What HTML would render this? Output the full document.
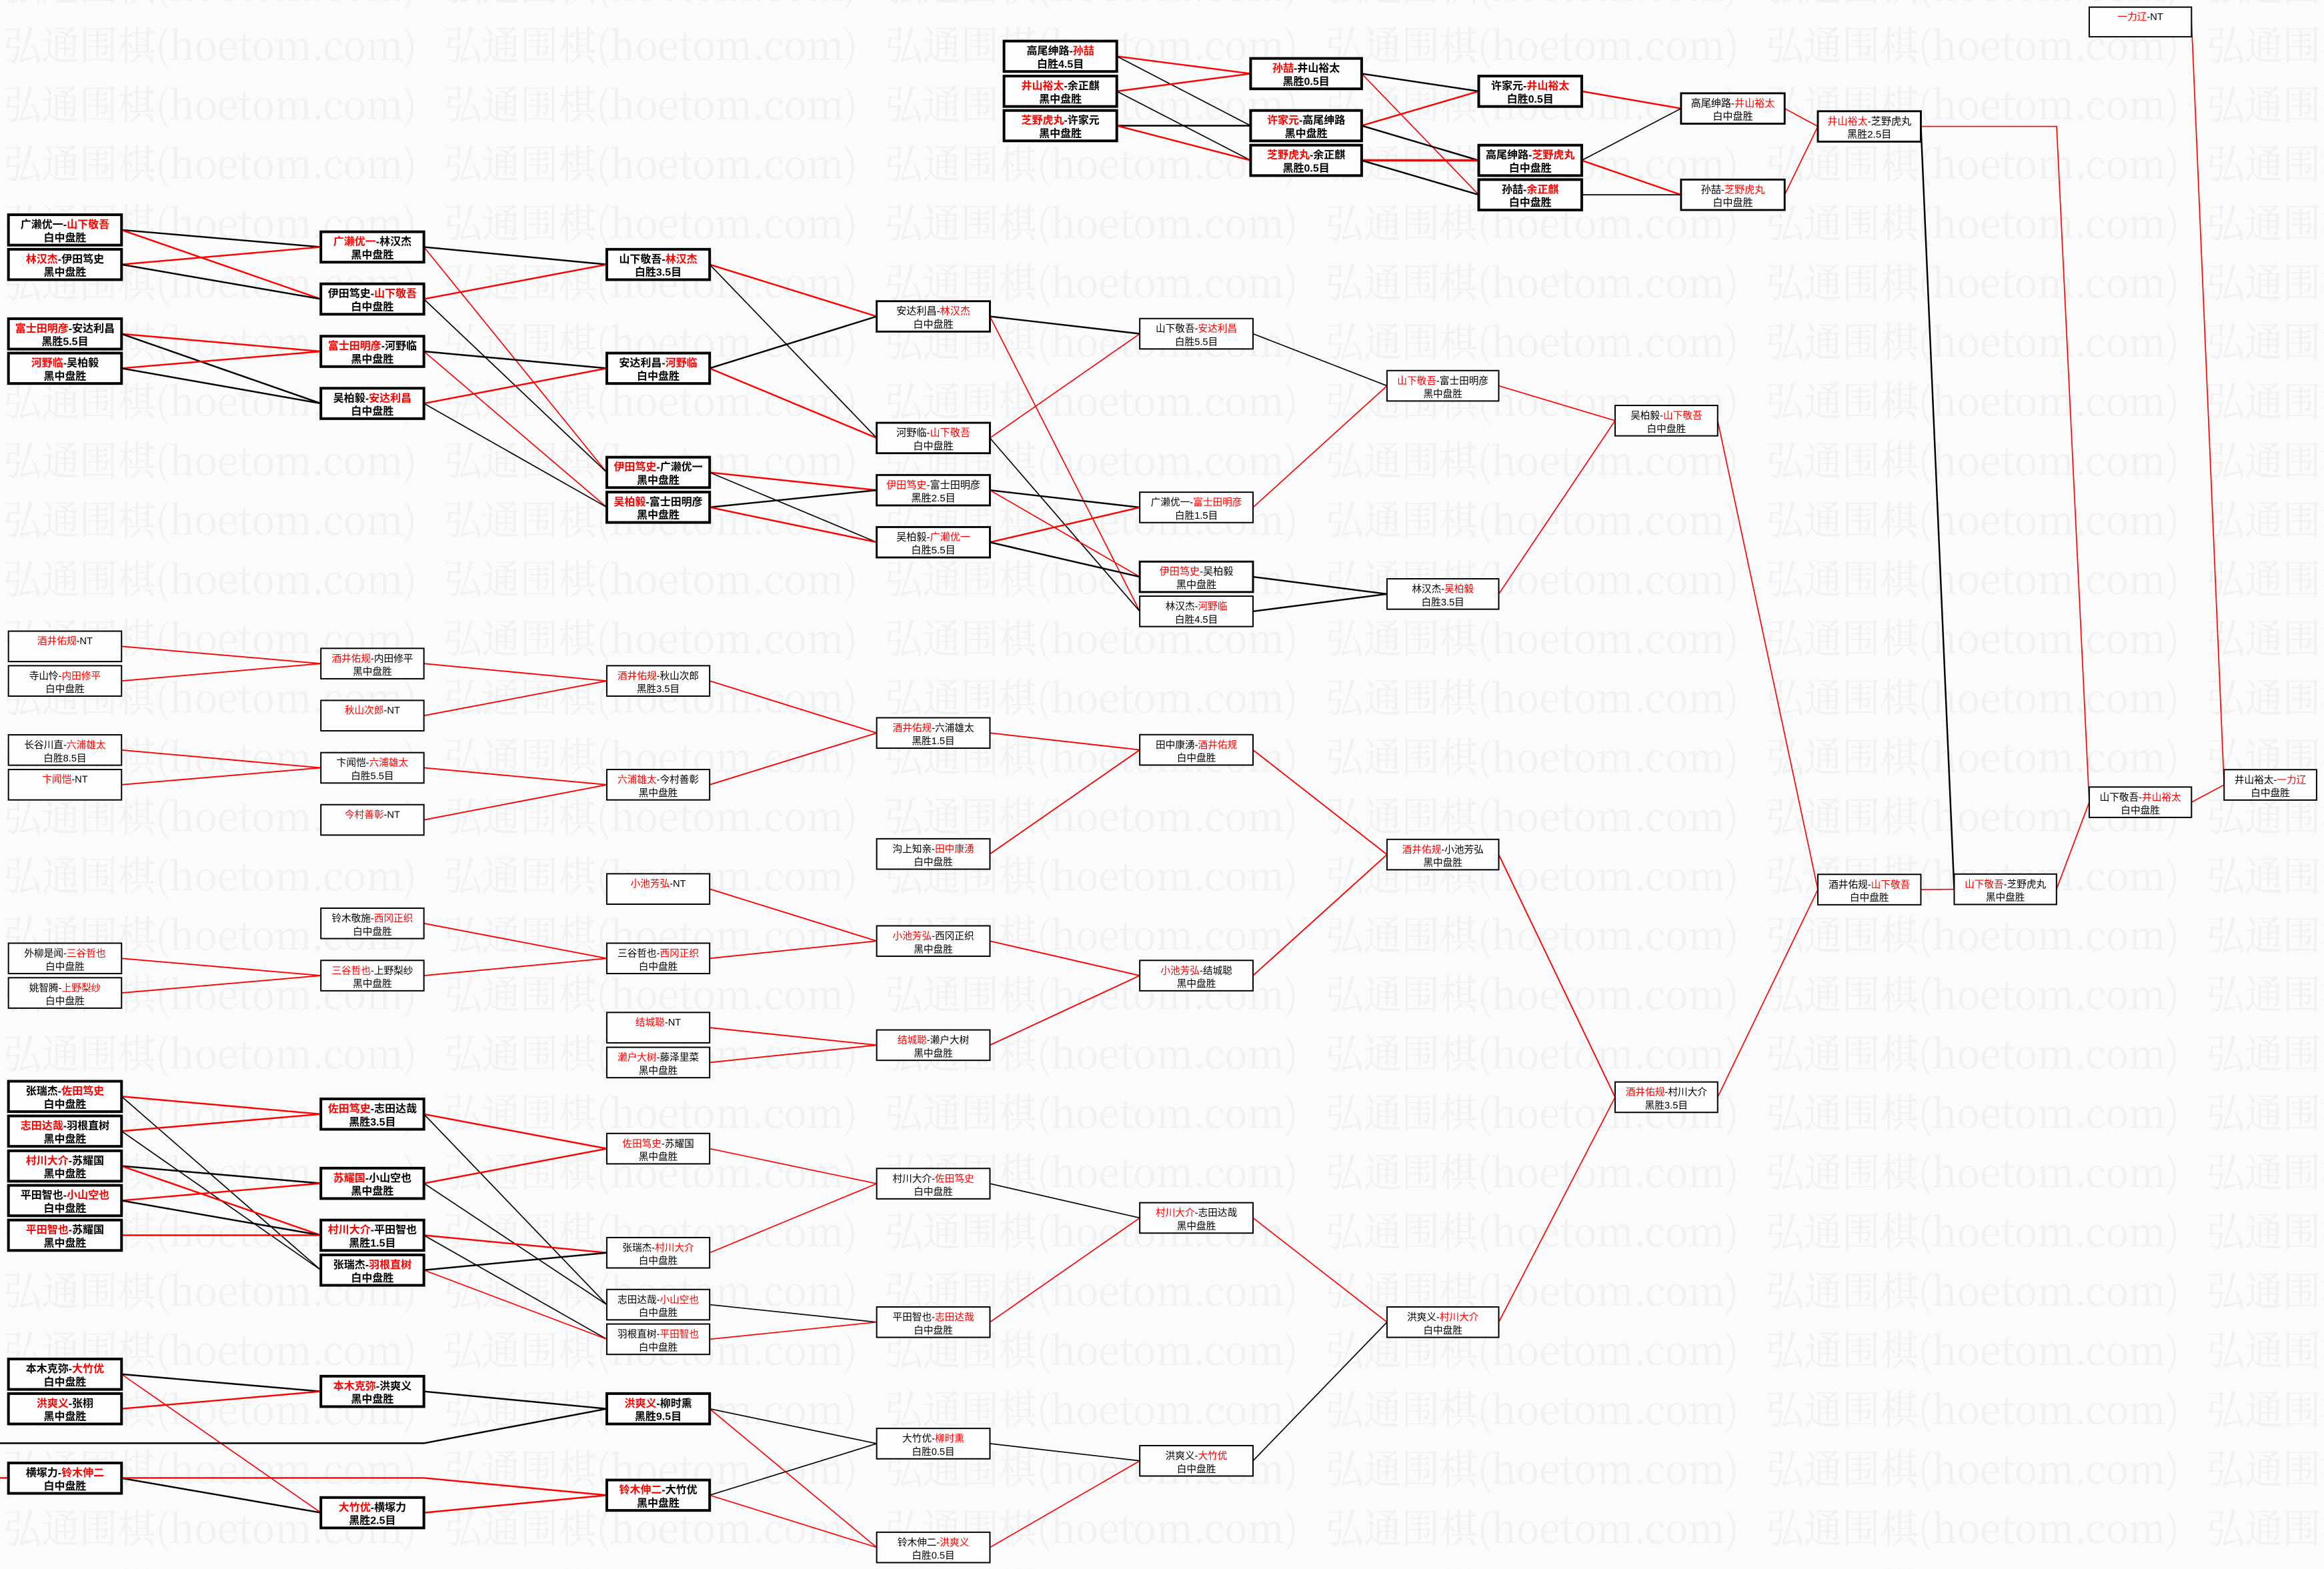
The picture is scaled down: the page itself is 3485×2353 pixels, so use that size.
<!DOCTYPE html>
<html><head><meta charset="utf-8"><style>
html,body{margin:0;padding:0;background:#fbfbfb;overflow:hidden}
svg{display:block}
.bx text{font-family:"Liberation Sans","Noto Sans CJK SC",sans-serif;text-anchor:middle;fill:#000}
.bx rect{fill:#fdfdfd;stroke:#000}
.k rect{stroke-width:1.8}.k text{font-size:7.2px;font-weight:bold}
.m rect{stroke-width:1.3}.m text{font-size:6.8px}
.t rect{stroke-width:0.9}.t text{font-size:6.6px}
.bx .r{fill:#f00}
line,polyline{fill:none}
.rk{stroke:#f00;stroke-width:1.1}.rt{stroke:#f00;stroke-width:0.75}
.kk{stroke:#000;stroke-width:1.1}.kt{stroke:#000;stroke-width:0.75}
</style></head><body>
<svg xmlns="http://www.w3.org/2000/svg" width="3485" height="2353" viewBox="0 0 1568 1058" preserveAspectRatio="none">
<defs>
<pattern id="wm" patternUnits="userSpaceOnUse" x="0" y="17" width="297.3" height="40">
<text x="2.3" y="23.3" font-size="27" textLength="279" lengthAdjust="spacingAndGlyphs" fill="#f1f1f1" style="font-family:'Noto Serif CJK SC','Liberation Serif',serif">弘通围棋(hoetom.com)</text>
</pattern>
</defs>
<rect width="1568" height="1058" fill="#fbfbfb"/>
<rect width="1568" height="1058" fill="url(#wm)"/>

<!-- top bracket lines -->
<line class="rk" x1="753.5" y1="37.95" x2="843.8" y2="49.65"/>
<line class="kt" x1="753.5" y1="37.95" x2="843.8" y2="84.75"/>
<line class="rk" x1="753.5" y1="61.55" x2="843.8" y2="49.65"/>
<line class="kt" x1="753.5" y1="61.55" x2="843.8" y2="108.15"/>
<line class="kk" x1="753.5" y1="84.75" x2="843.8" y2="84.75"/>
<line class="rk" x1="753.5" y1="84.75" x2="843.8" y2="108.15"/>
<line class="kk" x1="918.7" y1="49.65" x2="997.7" y2="61.55"/>
<line class="rt" x1="918.7" y1="49.65" x2="997.7" y2="131.35"/>
<line class="rk" x1="918.7" y1="84.75" x2="997.7" y2="61.55"/>
<line class="kk" x1="918.7" y1="84.75" x2="997.7" y2="108.15"/>
<line class="rk" x1="918.7" y1="108.15" x2="997.7" y2="108.15" style="stroke-width:1.6"/>
<line class="kk" x1="918.7" y1="108.15" x2="997.7" y2="131.35"/>
<line class="rk" x1="1067.2" y1="61.55" x2="1134.2" y2="73.15"/>
<line class="kt" x1="1067.2" y1="108.15" x2="1134.2" y2="73.15"/>
<line class="rk" x1="1067.2" y1="108.15" x2="1134.2" y2="131.35"/>
<line class="kt" x1="1067.2" y1="131.35" x2="1134.2" y2="131.35"/>
<line class="rt" x1="1204.1" y1="73.15" x2="1226.5" y2="85.25"/>
<line class="rt" x1="1204.1" y1="131.35" x2="1226.5" y2="85.25"/>
<polyline class="rt" points="1296,85.25 1387.6,85.25 1409.6,540.95"/>
<line class="kk" x1="1296" y1="85.25" x2="1318.5" y2="599.65"/>
<line class="rt" x1="1478.6" y1="14.05" x2="1500.6" y2="529.25"/>
<line class="rt" x1="1478.6" y1="540.95" x2="1500.6" y2="529.25"/>
<line class="rt" x1="1387.5" y1="599.65" x2="1409.6" y2="540.95"/>
<line class="rt" x1="1296" y1="599.85" x2="1318.5" y2="599.65"/>
<line class="rt" x1="1158.9" y1="283.65" x2="1226.5" y2="599.85"/>
<line class="rt" x1="1158.9" y1="739.85" x2="1226.5" y2="599.85"/>

<!-- top-left bracket lines -->
<line class="kk" x1="82" y1="155.05" x2="216.5" y2="166.55"/>
<line class="rk" x1="82" y1="155.05" x2="216.5" y2="201.65"/>
<line class="rk" x1="82" y1="178.35" x2="216.5" y2="166.55"/>
<line class="kk" x1="82" y1="178.35" x2="216.5" y2="201.65"/>
<line class="rk" x1="82" y1="225.15" x2="216.5" y2="236.95"/>
<line class="kk" x1="82" y1="225.15" x2="216.5" y2="272.05"/>
<line class="rk" x1="82" y1="248.35" x2="216.5" y2="236.95"/>
<line class="kk" x1="82" y1="248.35" x2="216.5" y2="272.05"/>
<line class="kk" x1="286" y1="166.55" x2="409.4" y2="178.35"/>
<line class="rt" x1="286" y1="166.55" x2="409.4" y2="318.55"/>
<line class="rk" x1="286" y1="201.65" x2="409.4" y2="178.35"/>
<line class="kt" x1="286" y1="201.65" x2="409.4" y2="318.55"/>
<line class="kk" x1="286" y1="236.95" x2="409.4" y2="248.35"/>
<line class="rt" x1="286" y1="236.95" x2="409.4" y2="342.05"/>
<line class="rk" x1="286" y1="272.05" x2="409.4" y2="248.35"/>
<line class="kt" x1="286" y1="272.05" x2="409.4" y2="342.05"/>
<line class="rk" x1="478.8" y1="178.35" x2="591.5" y2="213.35"/>
<line class="kt" x1="478.8" y1="178.35" x2="591.5" y2="295.35"/>
<line class="kk" x1="478.8" y1="248.35" x2="591.5" y2="213.35"/>
<line class="rk" x1="478.8" y1="248.35" x2="591.5" y2="295.35"/>
<line class="rk" x1="478.8" y1="318.55" x2="591.5" y2="330.55"/>
<line class="kt" x1="478.8" y1="318.55" x2="591.5" y2="365.65"/>
<line class="kk" x1="478.8" y1="342.05" x2="591.5" y2="330.55"/>
<line class="rk" x1="478.8" y1="342.05" x2="591.5" y2="365.65"/>
<line class="kk" x1="667.9" y1="213.35" x2="769" y2="225.05"/>
<line class="rt" x1="667.9" y1="213.35" x2="769" y2="412.25"/>
<line class="rt" x1="667.9" y1="295.35" x2="769" y2="225.05"/>
<line class="kt" x1="667.9" y1="295.35" x2="769" y2="412.25"/>
<line class="kk" x1="667.9" y1="330.55" x2="769" y2="342.15"/>
<line class="rt" x1="667.9" y1="330.55" x2="769" y2="388.95"/>
<line class="rk" x1="667.9" y1="365.65" x2="769" y2="342.15"/>
<line class="kk" x1="667.9" y1="365.65" x2="769" y2="388.95"/>
<line class="kt" x1="845.4" y1="225.05" x2="935.8" y2="260.15"/>
<line class="rt" x1="845.4" y1="342.15" x2="935.8" y2="260.15"/>
<line class="kk" x1="845.4" y1="388.95" x2="935.8" y2="400.55"/>
<line class="kk" x1="845.4" y1="412.25" x2="935.8" y2="400.55"/>
<line class="rt" x1="1011.2" y1="260.15" x2="1089.7" y2="283.65"/>
<line class="rt" x1="1011.2" y1="400.55" x2="1089.7" y2="283.65"/>

<!-- middle bracket lines -->
<g class="rt" style="stroke-width:0.85">
<line x1="82" y1="435.85" x2="216.5" y2="447.45"/>
<line x1="82" y1="459.15" x2="216.5" y2="447.45"/>
<line x1="286" y1="447.45" x2="409.4" y2="459.15"/>
<line x1="286" y1="482.55" x2="409.4" y2="459.15"/>
<line x1="82" y1="505.75" x2="216.5" y2="517.75"/>
<line x1="82" y1="529.15" x2="216.5" y2="517.75"/>
<line x1="286" y1="517.75" x2="409.4" y2="529.15"/>
<line x1="286" y1="552.85" x2="409.4" y2="529.15"/>
<line x1="82" y1="646.25" x2="216.5" y2="657.85"/>
<line x1="82" y1="669.55" x2="216.5" y2="657.85"/>
<line x1="286" y1="657.85" x2="409.4" y2="646.25"/>
<line x1="286" y1="622.65" x2="409.4" y2="646.25"/>
<line x1="478.8" y1="459.15" x2="591.5" y2="494.25"/>
<line x1="478.8" y1="529.15" x2="591.5" y2="494.25"/>
<line x1="478.8" y1="599.45" x2="591.5" y2="634.55"/>
<line x1="478.8" y1="646.25" x2="591.5" y2="634.55"/>
<line x1="478.8" y1="692.95" x2="591.5" y2="704.75"/>
<line x1="478.8" y1="716.45" x2="591.5" y2="704.75"/>
<line x1="667.9" y1="494.25" x2="769" y2="505.65"/>
<line x1="667.9" y1="575.85" x2="769" y2="505.65"/>
<line x1="667.9" y1="634.55" x2="769" y2="657.85"/>
<line x1="667.9" y1="704.75" x2="769" y2="657.85"/>
<line x1="845.4" y1="505.65" x2="935.8" y2="576.25"/>
<line x1="845.4" y1="657.85" x2="935.8" y2="576.25"/>
<line x1="1011.2" y1="576.25" x2="1089.7" y2="739.85"/>
</g>

<!-- bottom bracket lines -->
<line class="rk" x1="82" y1="739.35" x2="216.5" y2="751.25"/>
<line class="kt" x1="82" y1="739.35" x2="216.5" y2="856.45"/>
<line class="rk" x1="82" y1="762.75" x2="216.5" y2="751.25"/>
<line class="kt" x1="82" y1="762.75" x2="216.5" y2="856.45"/>
<line class="kk" x1="82" y1="786.25" x2="216.5" y2="797.95"/>
<line class="rk" x1="82" y1="786.25" x2="216.5" y2="832.95"/>
<line class="rk" x1="82" y1="809.55" x2="216.5" y2="797.95"/>
<line class="kk" x1="82" y1="809.55" x2="216.5" y2="832.95"/>
<line class="rk" x1="82" y1="832.95" x2="216.5" y2="832.95"/>
<line class="kk" x1="82" y1="926.65" x2="216.5" y2="938.25"/>
<line class="rt" x1="82" y1="926.65" x2="216.5" y2="1020.05"/>
<line class="rk" x1="82" y1="949.95" x2="216.5" y2="938.25"/>
<line class="kk" x1="82" y1="996.75" x2="216.5" y2="1020.05"/>
<polyline class="rk" points="0,996.6 286,996.6 409.4,1008.25"/>
<polyline class="kk" points="0,973.2 286,973.2 409.4,949.95"/>
<line class="rk" x1="286" y1="751.25" x2="409.4" y2="774.55"/>
<line class="kt" x1="286" y1="751.25" x2="409.4" y2="879.75"/>
<line class="rk" x1="286" y1="797.95" x2="409.4" y2="774.55"/>
<line class="kt" x1="286" y1="797.95" x2="409.4" y2="879.75"/>
<line class="rk" x1="286" y1="832.95" x2="409.4" y2="844.75"/>
<line class="kt" x1="286" y1="832.95" x2="409.4" y2="903.05"/>
<line class="kk" x1="286" y1="856.45" x2="409.4" y2="844.75"/>
<line class="rt" x1="286" y1="856.45" x2="409.4" y2="903.05"/>
<line class="kk" x1="286" y1="938.25" x2="409.4" y2="949.95"/>
<line class="rk" x1="286" y1="1020.05" x2="409.4" y2="1008.25"/>
<line class="rt" x1="478.8" y1="774.55" x2="591.5" y2="798.15"/>
<line class="rt" x1="478.8" y1="844.75" x2="591.5" y2="798.15"/>
<line class="kt" x1="478.8" y1="879.75" x2="591.5" y2="891.55"/>
<line class="rt" x1="478.8" y1="903.05" x2="591.5" y2="891.55"/>
<line class="kt" x1="478.8" y1="949.95" x2="591.5" y2="973.45"/>
<line class="rt" x1="478.8" y1="949.95" x2="591.5" y2="1043.45"/>
<line class="kt" x1="478.8" y1="1008.25" x2="591.5" y2="973.45"/>
<line class="rt" x1="478.8" y1="1008.25" x2="591.5" y2="1043.45"/>
<line class="kt" x1="667.9" y1="798.15" x2="769" y2="821.25"/>
<line class="rt" x1="667.9" y1="891.55" x2="769" y2="821.25"/>
<line class="kt" x1="667.9" y1="973.45" x2="769" y2="985.05"/>
<line class="rt" x1="667.9" y1="1043.45" x2="769" y2="985.05"/>
<line class="rt" x1="845.4" y1="821.25" x2="935.8" y2="891.55"/>
<line class="kt" x1="845.4" y1="985.05" x2="935.8" y2="891.55"/>
<line class="rt" x1="1011.2" y1="891.55" x2="1089.7" y2="739.85"/>

<!-- ===== BOXES ===== -->
<!-- top bracket -->
<g class="bx k" transform="translate(677.4 27.7)"><rect width="76.1" height="20.5"/><text x="38.05" y="9">高尾绅路-<tspan class="r">孙喆</tspan></text><text x="38.05" y="17.9">白胜4.5目</text></g>
<g class="bx k" transform="translate(677.4 51.3)"><rect width="76.1" height="20.5"/><text x="38.05" y="9"><tspan class="r">井山裕太</tspan>-余正麒</text><text x="38.05" y="17.9">黑中盘胜</text></g>
<g class="bx k" transform="translate(677.4 74.5)"><rect width="76.1" height="20.5"/><text x="38.05" y="9"><tspan class="r">芝野虎丸</tspan>-许家元</text><text x="38.05" y="17.9">黑中盘胜</text></g>
<g class="bx k" transform="translate(843.8 39.4)"><rect width="74.9" height="20.5"/><text x="37.45" y="9"><tspan class="r">孙喆</tspan>-井山裕太</text><text x="37.45" y="17.9">黑胜0.5目</text></g>
<g class="bx k" transform="translate(843.8 74.5)"><rect width="74.9" height="20.5"/><text x="37.45" y="9"><tspan class="r">许家元</tspan>-高尾绅路</text><text x="37.45" y="17.9">黑中盘胜</text></g>
<g class="bx k" transform="translate(843.8 97.9)"><rect width="74.9" height="20.5"/><text x="37.45" y="9"><tspan class="r">芝野虎丸</tspan>-余正麒</text><text x="37.45" y="17.9">黑胜0.5目</text></g>
<g class="bx k" transform="translate(997.7 51.3)"><rect width="69.5" height="20.5"/><text x="34.75" y="9">许家元-<tspan class="r">井山裕太</tspan></text><text x="34.75" y="17.9">白胜0.5目</text></g>
<g class="bx k" transform="translate(997.7 97.9)"><rect width="69.5" height="20.5"/><text x="34.75" y="9">高尾绅路-<tspan class="r">芝野虎丸</tspan></text><text x="34.75" y="17.9">白中盘胜</text></g>
<g class="bx k" transform="translate(997.7 121.1)"><rect width="69.5" height="20.5"/><text x="34.75" y="9">孙喆-<tspan class="r">余正麒</tspan></text><text x="34.75" y="17.9">白中盘胜</text></g>
<g class="bx m" transform="translate(1134.2 62.9)"><rect width="69.9" height="20.5"/><text x="34.95" y="9">高尾绅路-<tspan class="r">井山裕太</tspan></text><text x="34.95" y="17.9">白中盘胜</text></g>
<g class="bx m" transform="translate(1134.2 121.1)"><rect width="69.9" height="20.5"/><text x="34.95" y="9">孙喆-<tspan class="r">芝野虎丸</tspan></text><text x="34.95" y="17.9">白中盘胜</text></g>
<g class="bx m" transform="translate(1226.5 75)"><rect width="69.5" height="20.5"/><text x="34.75" y="9"><tspan class="r">井山裕太</tspan>-芝野虎丸</text><text x="34.75" y="17.9">黑胜2.5目</text></g>

<!-- right side -->
<g class="bx t" transform="translate(1409.6 4.8)"><rect width="69" height="20"/><text x="34.5" y="8.6"><tspan class="r">一力辽</tspan>-NT</text></g>
<g class="bx t" transform="translate(1500.6 519)"><rect width="62.4" height="20.5"/><text x="31.2" y="9">井山裕太-<tspan class="r">一力辽</tspan></text><text x="31.2" y="17.9">白中盘胜</text></g>
<g class="bx t" transform="translate(1409.6 530.7)"><rect width="69" height="20.5"/><text x="34.5" y="9">山下敬吾-<tspan class="r">井山裕太</tspan></text><text x="34.5" y="17.9">白中盘胜</text></g>
<g class="bx t" transform="translate(1318.5 589.4)"><rect width="69" height="20.5"/><text x="34.5" y="9"><tspan class="r">山下敬吾</tspan>-芝野虎丸</text><text x="34.5" y="17.9">黑中盘胜</text></g>
<g class="bx t" transform="translate(1226.5 589.6)"><rect width="69.5" height="20.5"/><text x="34.75" y="9">酒井佑规-<tspan class="r">山下敬吾</tspan></text><text x="34.75" y="17.9">白中盘胜</text></g>
<g class="bx t" transform="translate(1089.7 273.4)"><rect width="69.2" height="20.5"/><text x="34.6" y="9">吴柏毅-<tspan class="r">山下敬吾</tspan></text><text x="34.6" y="17.9">白中盘胜</text></g>
<g class="bx t" transform="translate(1089.7 729.6)"><rect width="69.2" height="20.5"/><text x="34.6" y="9"><tspan class="r">酒井佑规</tspan>-村川大介</text><text x="34.6" y="17.9">黑胜3.5目</text></g>

<!-- top-left bracket -->
<g class="bx k" transform="translate(5.7 144.8)"><rect width="76.3" height="20.5"/><text x="38.15" y="9">广濑优一-<tspan class="r">山下敬吾</tspan></text><text x="38.15" y="17.9">白中盘胜</text></g>
<g class="bx k" transform="translate(5.7 168.1)"><rect width="76.3" height="20.5"/><text x="38.15" y="9"><tspan class="r">林汉杰</tspan>-伊田笃史</text><text x="38.15" y="17.9">黑中盘胜</text></g>
<g class="bx k" transform="translate(5.7 214.9)"><rect width="76.3" height="20.5"/><text x="38.15" y="9"><tspan class="r">富士田明彦</tspan>-安达利昌</text><text x="38.15" y="17.9">黑胜5.5目</text></g>
<g class="bx k" transform="translate(5.7 238.1)"><rect width="76.3" height="20.5"/><text x="38.15" y="9"><tspan class="r">河野临</tspan>-吴柏毅</text><text x="38.15" y="17.9">黑中盘胜</text></g>
<g class="bx k" transform="translate(216.5 156.3)"><rect width="69.5" height="20.5"/><text x="34.75" y="9"><tspan class="r">广濑优一</tspan>-林汉杰</text><text x="34.75" y="17.9">黑中盘胜</text></g>
<g class="bx k" transform="translate(216.5 191.4)"><rect width="69.5" height="20.5"/><text x="34.75" y="9">伊田笃史-<tspan class="r">山下敬吾</tspan></text><text x="34.75" y="17.9">白中盘胜</text></g>
<g class="bx k" transform="translate(216.5 226.7)"><rect width="69.5" height="20.5"/><text x="34.75" y="9"><tspan class="r">富士田明彦</tspan>-河野临</text><text x="34.75" y="17.9">黑中盘胜</text></g>
<g class="bx k" transform="translate(216.5 261.8)"><rect width="69.5" height="20.5"/><text x="34.75" y="9">吴柏毅-<tspan class="r">安达利昌</tspan></text><text x="34.75" y="17.9">白中盘胜</text></g>
<g class="bx k" transform="translate(409.4 168.1)"><rect width="69.4" height="20.5"/><text x="34.7" y="9">山下敬吾-<tspan class="r">林汉杰</tspan></text><text x="34.7" y="17.9">白胜3.5目</text></g>
<g class="bx k" transform="translate(409.4 238.1)"><rect width="69.4" height="20.5"/><text x="34.7" y="9">安达利昌-<tspan class="r">河野临</tspan></text><text x="34.7" y="17.9">白中盘胜</text></g>
<g class="bx k" transform="translate(409.4 308.3)"><rect width="69.4" height="20.5"/><text x="34.7" y="9"><tspan class="r">伊田笃史</tspan>-广濑优一</text><text x="34.7" y="17.9">黑中盘胜</text></g>
<g class="bx k" transform="translate(409.4 331.8)"><rect width="69.4" height="20.5"/><text x="34.7" y="9"><tspan class="r">吴柏毅</tspan>-富士田明彦</text><text x="34.7" y="17.9">黑中盘胜</text></g>
<g class="bx m" transform="translate(591.5 203.1)"><rect width="76.4" height="20.5"/><text x="38.2" y="9">安达利昌-<tspan class="r">林汉杰</tspan></text><text x="38.2" y="17.9">白中盘胜</text></g>
<g class="bx m" transform="translate(591.5 285.1)"><rect width="76.4" height="20.5"/><text x="38.2" y="9">河野临-<tspan class="r">山下敬吾</tspan></text><text x="38.2" y="17.9">白中盘胜</text></g>
<g class="bx m" transform="translate(591.5 320.3)"><rect width="76.4" height="20.5"/><text x="38.2" y="9"><tspan class="r">伊田笃史</tspan>-富士田明彦</text><text x="38.2" y="17.9">黑胜2.5目</text></g>
<g class="bx m" transform="translate(591.5 355.4)"><rect width="76.4" height="20.5"/><text x="38.2" y="9">吴柏毅-<tspan class="r">广濑优一</tspan></text><text x="38.2" y="17.9">白胜5.5目</text></g>
<g class="bx t" transform="translate(769 214.8)"><rect width="76.4" height="20.5"/><text x="38.2" y="9">山下敬吾-<tspan class="r">安达利昌</tspan></text><text x="38.2" y="17.9">白胜5.5目</text></g>
<g class="bx t" transform="translate(769 331.9)"><rect width="76.4" height="20.5"/><text x="38.2" y="9">广濑优一-<tspan class="r">富士田明彦</tspan></text><text x="38.2" y="17.9">白胜1.5目</text></g>
<g class="bx m" transform="translate(769 378.7)"><rect width="76.4" height="20.5"/><text x="38.2" y="9"><tspan class="r">伊田笃史</tspan>-吴柏毅</text><text x="38.2" y="17.9">黑中盘胜</text></g>
<g class="bx t" transform="translate(769 402)"><rect width="76.4" height="20.5"/><text x="38.2" y="9">林汉杰-<tspan class="r">河野临</tspan></text><text x="38.2" y="17.9">白胜4.5目</text></g>
<g class="bx t" transform="translate(935.8 249.9)"><rect width="75.4" height="20.5"/><text x="37.7" y="9"><tspan class="r">山下敬吾</tspan>-富士田明彦</text><text x="37.7" y="17.9">黑中盘胜</text></g>
<g class="bx t" transform="translate(935.8 390.3)"><rect width="75.4" height="20.5"/><text x="37.7" y="9">林汉杰-<tspan class="r">吴柏毅</tspan></text><text x="37.7" y="17.9">白胜3.5目</text></g>

<!-- middle bracket -->
<g class="bx t" transform="translate(5.7 425.6)"><rect width="76.3" height="20.5"/><text x="38.15" y="8.8"><tspan class="r">酒井佑规</tspan>-NT</text></g>
<g class="bx t" transform="translate(5.7 448.9)"><rect width="76.3" height="20.5"/><text x="38.15" y="9">寺山怜-<tspan class="r">内田修平</tspan></text><text x="38.15" y="17.9">白中盘胜</text></g>
<g class="bx t" transform="translate(5.7 495.5)"><rect width="76.3" height="20.5"/><text x="38.15" y="9">长谷川直-<tspan class="r">六浦雄太</tspan></text><text x="38.15" y="17.9">白胜8.5目</text></g>
<g class="bx t" transform="translate(5.7 518.9)"><rect width="76.3" height="20.5"/><text x="38.15" y="8.8"><tspan class="r">卞闻恺</tspan>-NT</text></g>
<g class="bx t" transform="translate(5.7 636)"><rect width="76.3" height="20.5"/><text x="38.15" y="9">外柳是闻-<tspan class="r">三谷哲也</tspan></text><text x="38.15" y="17.9">白中盘胜</text></g>
<g class="bx t" transform="translate(5.7 659.3)"><rect width="76.3" height="20.5"/><text x="38.15" y="9">姚智腾-<tspan class="r">上野梨纱</tspan></text><text x="38.15" y="17.9">白中盘胜</text></g>
<g class="bx t" transform="translate(216.5 437.2)"><rect width="69.5" height="20.5"/><text x="34.75" y="9"><tspan class="r">酒井佑规</tspan>-内田修平</text><text x="34.75" y="17.9">黑中盘胜</text></g>
<g class="bx t" transform="translate(216.5 472.3)"><rect width="69.5" height="20.5"/><text x="34.75" y="8.8"><tspan class="r">秋山次郎</tspan>-NT</text></g>
<g class="bx t" transform="translate(216.5 507.5)"><rect width="69.5" height="20.5"/><text x="34.75" y="9">卞闻恺-<tspan class="r">六浦雄太</tspan></text><text x="34.75" y="17.9">白胜5.5目</text></g>
<g class="bx t" transform="translate(216.5 542.6)"><rect width="69.5" height="20.5"/><text x="34.75" y="8.8"><tspan class="r">今村善彰</tspan>-NT</text></g>
<g class="bx t" transform="translate(216.5 612.4)"><rect width="69.5" height="20.5"/><text x="34.75" y="9">铃木敬施-<tspan class="r">西冈正织</tspan></text><text x="34.75" y="17.9">白中盘胜</text></g>
<g class="bx t" transform="translate(216.5 647.6)"><rect width="69.5" height="20.5"/><text x="34.75" y="9"><tspan class="r">三谷哲也</tspan>-上野梨纱</text><text x="34.75" y="17.9">黑中盘胜</text></g>
<g class="bx t" transform="translate(409.4 448.9)"><rect width="69.4" height="20.5"/><text x="34.7" y="9"><tspan class="r">酒井佑规</tspan>-秋山次郎</text><text x="34.7" y="17.9">黑胜3.5目</text></g>
<g class="bx t" transform="translate(409.4 518.9)"><rect width="69.4" height="20.5"/><text x="34.7" y="9"><tspan class="r">六浦雄太</tspan>-今村善彰</text><text x="34.7" y="17.9">黑中盘胜</text></g>
<g class="bx t" transform="translate(409.4 589.2)"><rect width="69.4" height="20.5"/><text x="34.7" y="8.8"><tspan class="r">小池芳弘</tspan>-NT</text></g>
<g class="bx t" transform="translate(409.4 636)"><rect width="69.4" height="20.5"/><text x="34.7" y="9">三谷哲也-<tspan class="r">西冈正织</tspan></text><text x="34.7" y="17.9">白中盘胜</text></g>
<g class="bx t" transform="translate(409.4 682.7)"><rect width="69.4" height="20.5"/><text x="34.7" y="8.8"><tspan class="r">结城聪</tspan>-NT</text></g>
<g class="bx t" transform="translate(409.4 706.2)"><rect width="69.4" height="20.5"/><text x="34.7" y="9"><tspan class="r">濑户大树</tspan>-藤泽里菜</text><text x="34.7" y="17.9">黑中盘胜</text></g>
<g class="bx t" transform="translate(591.5 484)"><rect width="76.4" height="20.5"/><text x="38.2" y="9"><tspan class="r">酒井佑规</tspan>-六浦雄太</text><text x="38.2" y="17.9">黑胜1.5目</text></g>
<g class="bx t" transform="translate(591.5 565.6)"><rect width="76.4" height="20.5"/><text x="38.2" y="9">沟上知亲-<tspan class="r">田中康湧</tspan></text><text x="38.2" y="17.9">白中盘胜</text></g>
<g class="bx t" transform="translate(591.5 624.3)"><rect width="76.4" height="20.5"/><text x="38.2" y="9"><tspan class="r">小池芳弘</tspan>-西冈正织</text><text x="38.2" y="17.9">黑中盘胜</text></g>
<g class="bx t" transform="translate(591.5 694.5)"><rect width="76.4" height="20.5"/><text x="38.2" y="9"><tspan class="r">结城聪</tspan>-濑户大树</text><text x="38.2" y="17.9">黑中盘胜</text></g>
<g class="bx t" transform="translate(769 495.4)"><rect width="76.4" height="20.5"/><text x="38.2" y="9">田中康湧-<tspan class="r">酒井佑规</tspan></text><text x="38.2" y="17.9">白中盘胜</text></g>
<g class="bx t" transform="translate(769 647.6)"><rect width="76.4" height="20.5"/><text x="38.2" y="9"><tspan class="r">小池芳弘</tspan>-结城聪</text><text x="38.2" y="17.9">黑中盘胜</text></g>
<g class="bx t" transform="translate(935.8 566)"><rect width="75.4" height="20.5"/><text x="37.7" y="9"><tspan class="r">酒井佑规</tspan>-小池芳弘</text><text x="37.7" y="17.9">黑中盘胜</text></g>

<!-- bottom bracket -->
<g class="bx k" transform="translate(5.7 729.1)"><rect width="76.3" height="20.5"/><text x="38.15" y="9">张瑞杰-<tspan class="r">佐田笃史</tspan></text><text x="38.15" y="17.9">白中盘胜</text></g>
<g class="bx k" transform="translate(5.7 752.5)"><rect width="76.3" height="20.5"/><text x="38.15" y="9"><tspan class="r">志田达哉</tspan>-羽根直树</text><text x="38.15" y="17.9">黑中盘胜</text></g>
<g class="bx k" transform="translate(5.7 776)"><rect width="76.3" height="20.5"/><text x="38.15" y="9"><tspan class="r">村川大介</tspan>-苏耀国</text><text x="38.15" y="17.9">黑中盘胜</text></g>
<g class="bx k" transform="translate(5.7 799.3)"><rect width="76.3" height="20.5"/><text x="38.15" y="9">平田智也-<tspan class="r">小山空也</tspan></text><text x="38.15" y="17.9">白中盘胜</text></g>
<g class="bx k" transform="translate(5.7 822.7)"><rect width="76.3" height="20.5"/><text x="38.15" y="9"><tspan class="r">平田智也</tspan>-苏耀国</text><text x="38.15" y="17.9">黑中盘胜</text></g>
<g class="bx k" transform="translate(5.7 916.4)"><rect width="76.3" height="20.5"/><text x="38.15" y="9">本木克弥-<tspan class="r">大竹优</tspan></text><text x="38.15" y="17.9">白中盘胜</text></g>
<g class="bx k" transform="translate(5.7 939.7)"><rect width="76.3" height="20.5"/><text x="38.15" y="9"><tspan class="r">洪爽义</tspan>-张栩</text><text x="38.15" y="17.9">黑中盘胜</text></g>
<g class="bx k" transform="translate(5.7 986.5)"><rect width="76.3" height="20.5"/><text x="38.15" y="9">横塚力-<tspan class="r">铃木伸二</tspan></text><text x="38.15" y="17.9">白中盘胜</text></g>
<g class="bx k" transform="translate(216.5 741)"><rect width="69.5" height="20.5"/><text x="34.75" y="9"><tspan class="r">佐田笃史</tspan>-志田达哉</text><text x="34.75" y="17.9">黑胜3.5目</text></g>
<g class="bx k" transform="translate(216.5 787.7)"><rect width="69.5" height="20.5"/><text x="34.75" y="9"><tspan class="r">苏耀国</tspan>-小山空也</text><text x="34.75" y="17.9">黑中盘胜</text></g>
<g class="bx k" transform="translate(216.5 822.7)"><rect width="69.5" height="20.5"/><text x="34.75" y="9"><tspan class="r">村川大介</tspan>-平田智也</text><text x="34.75" y="17.9">黑胜1.5目</text></g>
<g class="bx k" transform="translate(216.5 846.2)"><rect width="69.5" height="20.5"/><text x="34.75" y="9">张瑞杰-<tspan class="r">羽根直树</tspan></text><text x="34.75" y="17.9">白中盘胜</text></g>
<g class="bx k" transform="translate(216.5 928)"><rect width="69.5" height="20.5"/><text x="34.75" y="9"><tspan class="r">本木克弥</tspan>-洪爽义</text><text x="34.75" y="17.9">黑中盘胜</text></g>
<g class="bx k" transform="translate(216.5 1009.8)"><rect width="69.5" height="20.5"/><text x="34.75" y="9"><tspan class="r">大竹优</tspan>-横塚力</text><text x="34.75" y="17.9">黑胜2.5目</text></g>
<g class="bx t" transform="translate(409.4 764.3)"><rect width="69.4" height="20.5"/><text x="34.7" y="9"><tspan class="r">佐田笃史</tspan>-苏耀国</text><text x="34.7" y="17.9">黑中盘胜</text></g>
<g class="bx t" transform="translate(409.4 834.5)"><rect width="69.4" height="20.5"/><text x="34.7" y="9">张瑞杰-<tspan class="r">村川大介</tspan></text><text x="34.7" y="17.9">白中盘胜</text></g>
<g class="bx t" transform="translate(409.4 869.5)"><rect width="69.4" height="20.5"/><text x="34.7" y="9">志田达哉-<tspan class="r">小山空也</tspan></text><text x="34.7" y="17.9">白中盘胜</text></g>
<g class="bx t" transform="translate(409.4 892.8)"><rect width="69.4" height="20.5"/><text x="34.7" y="9">羽根直树-<tspan class="r">平田智也</tspan></text><text x="34.7" y="17.9">白中盘胜</text></g>
<g class="bx k" transform="translate(409.4 939.7)"><rect width="69.4" height="20.5"/><text x="34.7" y="9"><tspan class="r">洪爽义</tspan>-柳时熏</text><text x="34.7" y="17.9">黑胜9.5目</text></g>
<g class="bx k" transform="translate(409.4 998)"><rect width="69.4" height="20.5"/><text x="34.7" y="9"><tspan class="r">铃木伸二</tspan>-大竹优</text><text x="34.7" y="17.9">黑中盘胜</text></g>
<g class="bx t" transform="translate(591.5 787.9)"><rect width="76.4" height="20.5"/><text x="38.2" y="9">村川大介-<tspan class="r">佐田笃史</tspan></text><text x="38.2" y="17.9">白中盘胜</text></g>
<g class="bx t" transform="translate(591.5 881.3)"><rect width="76.4" height="20.5"/><text x="38.2" y="9">平田智也-<tspan class="r">志田达哉</tspan></text><text x="38.2" y="17.9">白中盘胜</text></g>
<g class="bx t" transform="translate(591.5 963.2)"><rect width="76.4" height="20.5"/><text x="38.2" y="9">大竹优-<tspan class="r">柳时熏</tspan></text><text x="38.2" y="17.9">白胜0.5目</text></g>
<g class="bx t" transform="translate(591.5 1033.2)"><rect width="76.4" height="20.5"/><text x="38.2" y="9">铃木伸二-<tspan class="r">洪爽义</tspan></text><text x="38.2" y="17.9">白胜0.5目</text></g>
<g class="bx t" transform="translate(769 811)"><rect width="76.4" height="20.5"/><text x="38.2" y="9"><tspan class="r">村川大介</tspan>-志田达哉</text><text x="38.2" y="17.9">黑中盘胜</text></g>
<g class="bx t" transform="translate(769 974.8)"><rect width="76.4" height="20.5"/><text x="38.2" y="9">洪爽义-<tspan class="r">大竹优</tspan></text><text x="38.2" y="17.9">白中盘胜</text></g>
<g class="bx t" transform="translate(935.8 881.3)"><rect width="75.4" height="20.5"/><text x="37.7" y="9">洪爽义-<tspan class="r">村川大介</tspan></text><text x="37.7" y="17.9">白中盘胜</text></g>
</svg>
</body></html>
